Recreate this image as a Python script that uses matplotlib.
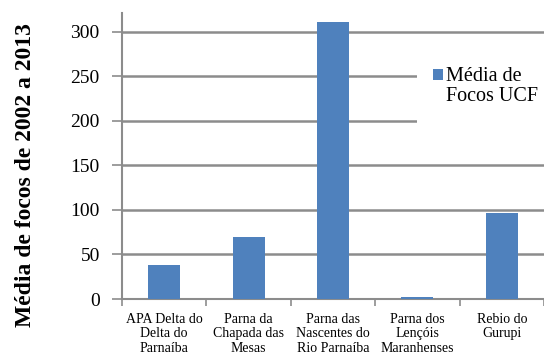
import numpy as np
import matplotlib.pyplot as plt
from matplotlib.patches import Rectangle
from matplotlib.container import BarContainer
from matplotlib.legend_handler import HandlerPatch, update_from_first_child

# média anual de focos de calor por unidade de conservação (2002-2013)
categorias = ["APA Delta do\nDelta do\nParnaíba",
              "Parna da\nChapada das\nMesas",
              "Parna das\nNascentes do\nRio Parnaíba",
              "Parna dos\nLençóis\nMaranhenses",
              "Rebio do\nGurupi"]
media_focos = [38, 70, 311, 2, 96]
yticks = [0, 50, 100, 150, 200, 250, 300]

plt.rcParams['font.family'] = ['Liberation Serif', 'DejaVu Serif']

cinza = '#8c8c8c'
azul = '#4f81bd'

fig = plt.figure(figsize=(5.44, 3.54), dpi=100)
ax = fig.add_axes([122 / 544, 1 - 299 / 354, 422 / 544, 286 / 354])

x = np.arange(len(categorias))
ax.bar(x, media_focos, width=0.38, color=azul, zorder=3, label='Média de\nFocos UCF')

ax.set_xlim(-0.5, len(categorias) - 0.5)
ax.set_ylim(0, 321)
ax.set_yticks(yticks)
ax.tick_params(axis='y', labelsize=14, length=7, width=1.2, color=cinza, pad=9)

# rótulos no centro, marcas nas divisões entre categorias
ax.set_xticks(x)
ax.set_xticklabels(categorias, fontsize=10, linespacing=1.15)
ax.set_xticks(np.arange(-0.5, len(categorias)), minor=True)
ax.tick_params(axis='x', which='major', length=0, pad=10)
ax.tick_params(axis='x', which='minor', length=5, width=1.2, color=cinza)

ax.grid(axis='y', color=cinza, linewidth=1.8, zorder=0)
for lado in ['top', 'right']:
    ax.spines[lado].set_visible(False)
for lado in ['left', 'bottom']:
    ax.spines[lado].set_color(cinza)
    ax.spines[lado].set_linewidth(1.5)

ax.set_ylabel('Média de focos de 2002 a 2013', fontsize=17, fontweight='bold')
ax.yaxis.set_label_coords(-0.203, 0.434)

# fundo branco da legenda, que interrompe as linhas de grade
fundo = Rectangle((417 / 544, 1 - 132 / 354), 127 / 544, 92 / 354,
                  transform=fig.transFigure, facecolor='white',
                  edgecolor='none', zorder=2)
ax.add_patch(fundo)
fundo.set_clip_on(False)


def quadrado_topo(legend, orig_handle, xdescent, ydescent, width, height, fontsize):
    # marcador alinhado com a primeira linha do texto
    return Rectangle((-xdescent, -ydescent + 8.3), width, height)


leg = ax.legend(loc='upper left', bbox_to_anchor=(433 / 544, 1 - 67 / 354),
                bbox_transform=fig.transFigure, fontsize=14.5, frameon=False,
                handlelength=0.5, handleheight=0.5, handletextpad=0.15,
                borderpad=0, borderaxespad=0,
                handler_map={BarContainer: HandlerPatch(patch_func=quadrado_topo,
                                                        update_func=update_from_first_child)})
leg.set_zorder(5)
for t in leg.get_texts():
    t.set_linespacing(1.05)

fig.savefig('out.png', dpi=100)
